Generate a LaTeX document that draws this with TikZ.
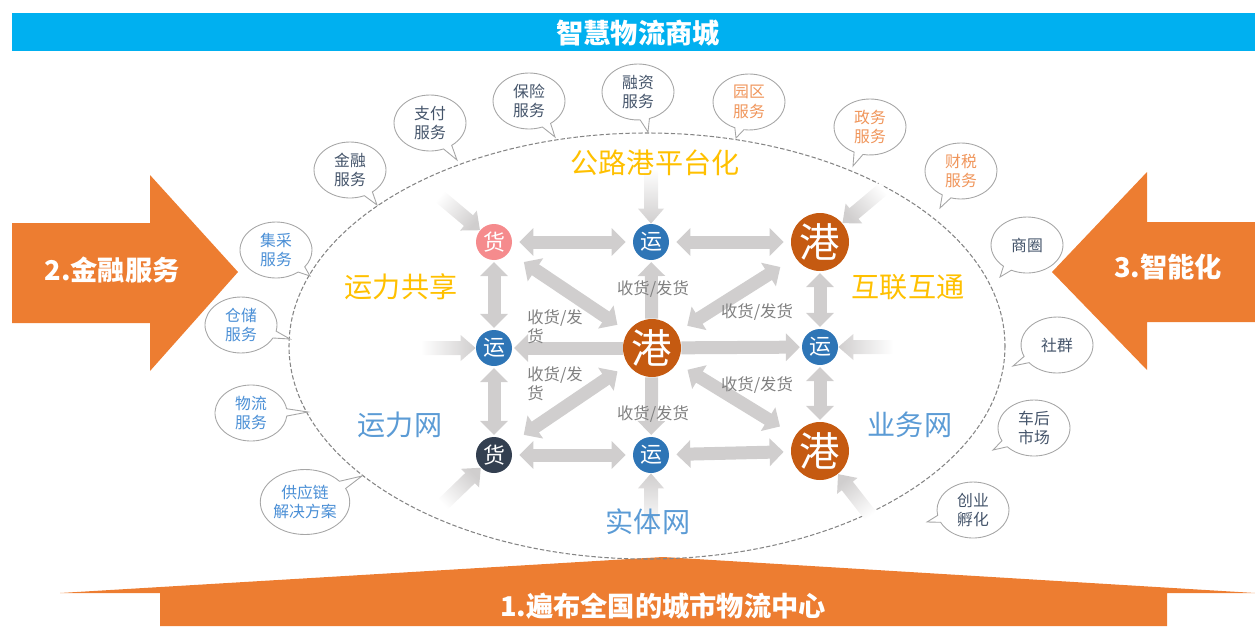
\documentclass[tikz,border=0pt]{standalone}
\usepackage{fontspec}
\setmainfont{Noto Sans CJK SC}
\usetikzlibrary{arrows.meta,shapes.callouts}
\definecolor{barblue}{HTML}{00B0F0}
\definecolor{bigorange}{HTML}{ED7D31}
\definecolor{portbrown}{HTML}{C55A11}
\definecolor{cargopink}{HTML}{F58B8D}
\definecolor{cargodark}{HTML}{333F50}
\definecolor{runblue}{HTML}{2E75B6}
\definecolor{linkgray}{HTML}{D0CECE}
\definecolor{taggray}{HTML}{808080}
\definecolor{gold}{HTML}{FFC000}
\definecolor{netblue}{HTML}{5B9BD5}
\definecolor{bubbledark}{HTML}{44546A}
\definecolor{bubbleorange}{HTML}{F0955A}
\definecolor{bubbleblue}{HTML}{4A8FD6}
\definecolor{bubbleedge}{HTML}{A6A6A6}

\begin{document}
\begin{tikzpicture}[x=0.02cm, y=-0.02cm,
	hubnode/.style={circle, fill=portbrown, text=white, minimum size=1.16cm, inner sep=0, font=\fontsize{23}{23}\selectfont},
	dot/.style={circle, text=white, minimum size=0.72cm, inner sep=0, font=\fontsize{12.5}{13}\selectfont},
	bubble/.style={ellipse callout, draw=bubbleedge, fill=white, minimum width=1.44cm, minimum height=1.12cm, inner sep=0, align=center, font=\fontsize{9}{11}\selectfont, line width=0.5pt},
	link/.style={draw=linkgray, line width=0.26cm, {Triangle[width=0.54cm,length=0.28cm]}-{Triangle[width=0.54cm,length=0.28cm]}, shorten <=4pt, shorten >=4pt},
	oneway/.style={link, -{Triangle[width=0.54cm,length=0.28cm]}, shorten <=0pt, shorten >=1pt},
	tag/.style={text=taggray, font=\fontsize{9.3}{11}\selectfont},
	zone/.style={font=\fontsize{16}{16}\selectfont},
	bigtext/.style={text=white, font=\fontsize{15.5}{16}\selectfont\bfseries},
	feed/.pic={\shade[rotate=#1, top color=linkgray, bottom color=white, shading angle=#1-90] (-55,-7) -- (-15,-7) -- (-15,-13) -- (0,0) -- (-15,13) -- (-15,7) -- (-55,7) -- cycle;}
]
	\useasboundingbox (0,0) rectangle (1255,626);
	\fill[barblue] (12,13) rectangle (1255,51);
	\node[bigtext] (title) at (638,33) {智慧物流商城};
	\fill[bigorange] (12,223) -- (150,223) -- (150,175) -- (238,272) -- (150,371) -- (150,323) -- (12,323) -- cycle;
	\node[bigtext] (finance) at (112,270) {2.金融服务};
	\fill[bigorange] (1255,222) -- (1147,222) -- (1147,172) -- (1052,272) -- (1147,370) -- (1147,322) -- (1255,322) -- cycle;
	\node[bigtext] (smart) at (1168,267) {3.智能化};
	\fill[bigorange] (160,626) -- (160,593) -- (60,593) -- (663,557) -- (1255,593) -- (1167,593) -- (1167,626) -- cycle;
	\node[bigtext] (centers) at (663,606) {1.遍布全国的城市物流中心};

	\draw[bubbleedge!80!black, dash pattern=on 2.5pt off 1.2pt, line width=0.6pt] (647,346) ellipse [x radius=358, y radius=213];

	\node[bubble, text=bubbledark, callout absolute pointer={(377,205)}] (b1) at (350,170) {金融\\服务};
	\node[bubble, text=bubbledark, callout absolute pointer={(457,160)}] (b2) at (430,123) {支付\\服务};
	\node[bubble, text=bubbledark, callout absolute pointer={(555,137)}] (b3) at (529,101) {保险\\服务};
	\node[bubble, text=bubbledark, callout absolute pointer={(648,132)}] (b4) at (638,92) {融资\\服务};
	\node[bubble, text=bubbleorange, callout absolute pointer={(736,138)}] (b5) at (749,102) {园区\\服务};
	\node[bubble, text=bubbleorange, callout absolute pointer={(853,166)}] (b6) at (870,127) {政务\\服务};
	\node[bubble, text=bubbleorange, callout absolute pointer={(940,208)}] (b7) at (961,171) {财税\\服务};
	\node[bubble, text=bubbledark, callout absolute pointer={(1000,277)}] (b8) at (1027,245) {商圈};
	\node[bubble, text=bubbledark, callout absolute pointer={(1013,366)}] (b9) at (1057,345) {社群};
	\node[bubble, text=bubbledark, callout absolute pointer={(993,450)}] (b10) at (1034,428) {车后\\市场};
	\node[bubble, text=bubbledark, callout absolute pointer={(927,522)}] (b11) at (973,510) {创业\\孵化};
	\node[bubble, text=bubbleblue, callout absolute pointer={(310,276)}] (b12) at (276,250) {集采\\服务};
	\node[bubble, text=bubbleblue, callout absolute pointer={(290,339)}] (b13) at (241,325) {仓储\\服务};
	\node[bubble, text=bubbleblue, callout absolute pointer={(308,412)}] (b14) at (251,413) {物流\\服务};
	\node[bubble, text=bubbleblue, minimum width=1.7cm, minimum height=1.3cm, callout absolute pointer={(362,476)}] (b15) at (305,502) {供应链\\解决方案};

	\node[dot, fill=cargopink] (g1) at (494,242) {货};
	\node[dot, fill=cargodark] (g2) at (494,455) {货};
	\node[dot, fill=runblue] (y1) at (651,242) {运};
	\node[dot, fill=runblue] (y2) at (494,348) {运};
	\node[dot, fill=runblue] (y3) at (820,347) {运};
	\node[dot, fill=runblue] (y4) at (651,455) {运};
	\node[hubnode] (hub) at (652,348) {港};
	\node[hubnode] (p1) at (820,242) {港};
	\node[hubnode] (p2) at (820,451) {港};

	\draw[link] (g1) -- (y1);
	\draw[link] (y1) -- (p1);
	\draw[link] (g2) -- (y4);
	\draw[link] (y4) -- (p2);
	\draw[link, shorten <=1pt, shorten >=1pt] (g1) -- (y2);
	\draw[link, shorten <=1pt, shorten >=1pt] (y2) -- (g2);
	\draw[link, shorten <=1pt, shorten >=1pt] (p1) -- (y3);
	\draw[link, shorten <=1pt, shorten >=1pt] (y3) -- (p2);
	\draw[link, shorten <=7pt, shorten >=10pt] (hub) -- (g1);
	\draw[link, shorten <=7pt, shorten >=10pt] (hub) -- (g2);
	\draw[link, shorten <=7pt, shorten >=10pt] (hub) -- (p1);
	\draw[link, shorten <=7pt, shorten >=10pt] (hub) -- (p2);
	\draw[oneway] (hub) -- (y1);
	\draw[oneway] (hub) -- (y2);
	\draw[oneway] (hub) -- (y3);
	\draw[oneway] (hub) -- (y4);

	\pic at (g1.140) {feed=-40};
	\pic at (y1.north) {feed=-90};
	\pic at (p1.40) {feed=-140};
	\pic at (y3.east) {feed=180};
	\pic at (p2.-52) {feed=128};
	\pic at (y4.south) {feed=90};
	\pic at (g2.-136) {feed=44};
	\pic at (y2.west) {feed=0};

	\node[tag] (t1) at (653,289) {收货/发货};
	\node[tag] (t2) at (757,312) {收货/发货};
	\node[tag] (t3) at (757,385) {收货/发货};
	\node[tag] (t4) at (653,414) {收货/发货};
	\node[tag, anchor=north west, align=left, inner sep=0] (t5) at (527,309) {收货/发\\货};
	\node[tag, anchor=north west, align=left, inner sep=0] (t6) at (527,366) {收货/发\\货};

	\node[zone, text=gold] (road) at (655,163) {公路港平台化};
	\node[zone, text=gold] (share) at (401,287) {运力共享};
	\node[zone, text=gold] (link) at (908,287) {互联互通};
	\node[zone, text=netblue] (capnet) at (400,425) {运力网};
	\node[zone, text=netblue] (biznet) at (910,425) {业务网};
	\node[zone, text=netblue] (realnet) at (648,522) {实体网};
\end{tikzpicture}
\end{document}
